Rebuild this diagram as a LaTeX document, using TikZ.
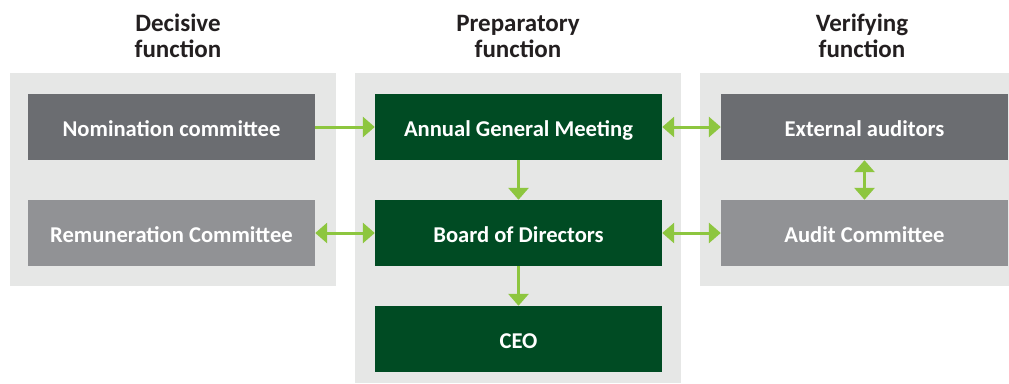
\documentclass[tikz,border=0pt]{standalone}
\usepackage{fontspec}
\setmainfont{Carlito}
\usetikzlibrary{positioning, arrows.meta}
\definecolor{panelgrey}{HTML}{E6E7E6}
\definecolor{darkgrey}{HTML}{6B6D71}
\definecolor{lightgrey}{HTML}{919295}
\definecolor{boardgreen}{HTML}{004B23}
\definecolor{arrowgreen}{HTML}{8DC63F}
\definecolor{titleblack}{HTML}{231F20}
\tikzset{
  panel/.style={fill=panelgrey},
  title/.style={text=titleblack, align=center, font=\bfseries\fontsize{25}{26}\selectfont},
  box/.style={rectangle, minimum width=287pt, minimum height=66pt, inner sep=0pt, text height=18.5pt, text depth=0pt, text=white, font=\bfseries\fontsize{22.6}{24}\selectfont},
  greybox/.style={box, fill=darkgrey},
  paleboxx/.style={box, fill=lightgrey},
  greenbox/.style={box, fill=boardgreen},
  arrow/.style={draw=arrowgreen, line width=3pt, -{Triangle[length=12pt, width=20pt]}},
  twoway/.style={draw=arrowgreen, line width=3pt, {Triangle[length=12pt, width=20pt]}-{Triangle[length=12pt, width=20pt]}}
}
\begin{document}
\begin{tikzpicture}[x=1pt, y=-1pt, node distance=106pt]
\useasboundingbox (0,0) rectangle (1009,383);
% grey panels behind each function
\fill[panel] (10,73) rectangle (336,286);
\fill[panel] (355,73) rectangle (681,383);
\fill[panel] (700,73) rectangle (1009,286);

\node (tdec) [title] at (178,36) {Decisive\\function};
\node (tprep) [title] at (518,36) {Preparatory\\function};
\node (tver) [title] at (862,36) {Verifying\\function};

\node (agm) [greenbox] at (518.5,127) {Annual General Meeting};
\node (board) [greenbox, below of=agm] {Board of Directors};
\node (ceo) [greenbox, below of=board] {CEO};
\node (nom) [greybox, left of=agm, xshift=-241pt] {Nomination committee};
\node (rem) [paleboxx, below of=nom] {Remuneration Committee};
\node (ext) [greybox, right of=agm, xshift=240pt] {External auditors};
\node (aud) [paleboxx, below of=ext] {Audit Committee};

\draw [arrow] (nom) -- (agm);
\draw [arrow] (agm) -- (board);
\draw [arrow] (board) -- (ceo);
\draw [twoway] (rem) -- (board);
\draw [twoway] (agm) -- (ext);
\draw [twoway] (board) -- (aud);
\draw [twoway] (ext) -- (aud);
\end{tikzpicture}
\end{document}
